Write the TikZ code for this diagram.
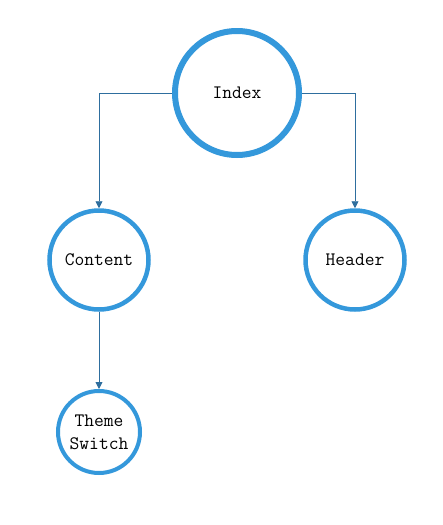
\documentclass[tikz,border=0pt]{standalone}
\usetikzlibrary{arrows.meta}
\definecolor{ring}{HTML}{3498DB}
\definecolor{conn}{HTML}{2E6E9E}
\begin{document}
\begin{tikzpicture}[x=1pt,y=-1pt,
  ringnode/.style={circle,draw=ring,fill=white,inner sep=0pt,align=center,
    font=\fontsize{19}{23}\selectfont\ttfamily},
  link/.style={draw=conn,line width=0.9pt,-{Triangle[length=7pt,width=7pt]}}]
\useasboundingbox (0,0) rectangle (443,525);
\node[ringnode,line width=6pt,minimum size=124pt] (index) at (237,93) {Index};
\node[ringnode,line width=4.5pt,minimum size=99pt] (content) at (99,260) {Content};
\node[ringnode,line width=4.5pt,minimum size=99pt] (header) at (355,260) {Header};
\node[ringnode,line width=4pt,minimum size=82pt] (theme) at (99,432) {Theme\\Switch};
\draw[link] (index.west) -| (content.north);
\draw[link] (index.east) -| (header.north);
\draw[link] (content.south) -- (theme.north);
\end{tikzpicture}
\end{document}
